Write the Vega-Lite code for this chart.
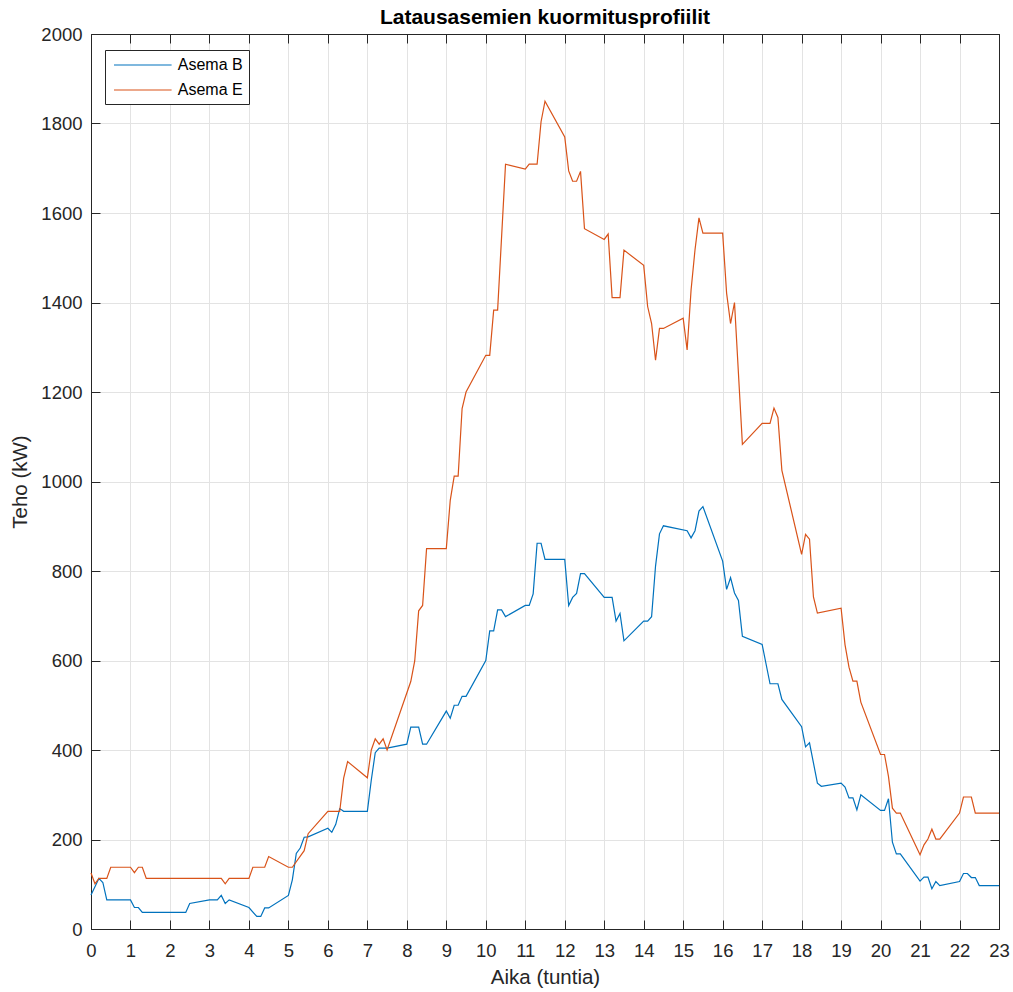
{
  "$schema": "https://vega.github.io/schema/vega-lite/v6.json",
  "autosize": {"type": "none"},
  "width": 908,
  "height": 895,
  "padding": {"left": 91, "top": 34, "right": 14, "bottom": 63},
  "background": "white",
  "title": {
    "text": "Latausasemien kuormitusprofiilit",
    "font": "Liberation Sans",
    "fontSize": 21,
    "fontWeight": "bold",
    "color": "#000000",
    "anchor": "middle",
    "baseline": "bottom",
    "offset": -24
  },
  "config": {
    "font": "Liberation Sans",
    "view": {"stroke": "#262626", "strokeWidth": 1},
    "axis": {
      "domainColor": "#262626",
      "tickColor": "#262626",
      "labelColor": "#262626",
      "titleColor": "#262626",
      "labelFont": "Liberation Sans",
      "titleFont": "Liberation Sans",
      "labelFontSize": 18.5,
      "titleFontSize": 20.5,
      "titleFontWeight": "normal",
      "gridColor": "#e3e3e3",
      "gridWidth": 1,
      "tickSize": -9,
      "tickWidth": 1
    }
  },
  "data": {
    "values": [
      {"h": 0, "v": 76, "s": "Asema B"}, {"h": 0.2, "v": 113, "s": "Asema B"}, {"h": 0.3, "v": 104, "s": "Asema B"},
      {"h": 0.4, "v": 65, "s": "Asema B"}, {"h": 1.0, "v": 65, "s": "Asema B"}, {"h": 1.1, "v": 48, "s": "Asema B"},
      {"h": 1.2, "v": 48, "s": "Asema B"}, {"h": 1.3, "v": 37, "s": "Asema B"}, {"h": 2.4, "v": 37, "s": "Asema B"},
      {"h": 2.5, "v": 57, "s": "Asema B"}, {"h": 3.0, "v": 65, "s": "Asema B"}, {"h": 3.2, "v": 65, "s": "Asema B"},
      {"h": 3.3, "v": 75, "s": "Asema B"}, {"h": 3.4, "v": 57, "s": "Asema B"}, {"h": 3.5, "v": 65, "s": "Asema B"},
      {"h": 4.0, "v": 48, "s": "Asema B"}, {"h": 4.2, "v": 28, "s": "Asema B"}, {"h": 4.3, "v": 28, "s": "Asema B"},
      {"h": 4.4, "v": 47, "s": "Asema B"}, {"h": 4.5, "v": 47, "s": "Asema B"}, {"h": 5.0, "v": 75, "s": "Asema B"},
      {"h": 5.1, "v": 110, "s": "Asema B"}, {"h": 5.2, "v": 169, "s": "Asema B"}, {"h": 5.3, "v": 181, "s": "Asema B"},
      {"h": 5.4, "v": 205, "s": "Asema B"}, {"h": 5.5, "v": 206, "s": "Asema B"}, {"h": 6.0, "v": 225, "s": "Asema B"},
      {"h": 6.1, "v": 216, "s": "Asema B"}, {"h": 6.2, "v": 234, "s": "Asema B"}, {"h": 6.3, "v": 269, "s": "Asema B"},
      {"h": 6.4, "v": 263, "s": "Asema B"}, {"h": 7.0, "v": 263, "s": "Asema B"}, {"h": 7.1, "v": 333, "s": "Asema B"},
      {"h": 7.2, "v": 394, "s": "Asema B"}, {"h": 7.3, "v": 404, "s": "Asema B"}, {"h": 7.5, "v": 404, "s": "Asema B"},
      {"h": 8.0, "v": 413, "s": "Asema B"}, {"h": 8.1, "v": 451, "s": "Asema B"}, {"h": 8.3, "v": 451, "s": "Asema B"},
      {"h": 8.4, "v": 413, "s": "Asema B"}, {"h": 8.5, "v": 413, "s": "Asema B"}, {"h": 9.0, "v": 487, "s": "Asema B"},
      {"h": 9.1, "v": 471, "s": "Asema B"}, {"h": 9.2, "v": 500, "s": "Asema B"}, {"h": 9.3, "v": 500, "s": "Asema B"},
      {"h": 9.4, "v": 520, "s": "Asema B"}, {"h": 9.5, "v": 520, "s": "Asema B"}, {"h": 10.0, "v": 600, "s": "Asema B"},
      {"h": 10.1, "v": 666, "s": "Asema B"}, {"h": 10.2, "v": 666, "s": "Asema B"}, {"h": 10.3, "v": 713, "s": "Asema B"},
      {"h": 10.4, "v": 713, "s": "Asema B"}, {"h": 10.5, "v": 698, "s": "Asema B"}, {"h": 11.0, "v": 723, "s": "Asema B"},
      {"h": 11.1, "v": 723, "s": "Asema B"}, {"h": 11.2, "v": 749, "s": "Asema B"}, {"h": 11.3, "v": 862, "s": "Asema B"},
      {"h": 11.4, "v": 862, "s": "Asema B"}, {"h": 11.5, "v": 826, "s": "Asema B"}, {"h": 12.0, "v": 826, "s": "Asema B"},
      {"h": 12.1, "v": 723, "s": "Asema B"}, {"h": 12.2, "v": 741, "s": "Asema B"}, {"h": 12.3, "v": 750, "s": "Asema B"},
      {"h": 12.4, "v": 794, "s": "Asema B"}, {"h": 12.5, "v": 794, "s": "Asema B"}, {"h": 13.0, "v": 741, "s": "Asema B"},
      {"h": 13.2, "v": 741, "s": "Asema B"}, {"h": 13.3, "v": 688, "s": "Asema B"}, {"h": 13.4, "v": 705, "s": "Asema B"},
      {"h": 13.5, "v": 644, "s": "Asema B"}, {"h": 14.0, "v": 688, "s": "Asema B"}, {"h": 14.1, "v": 688, "s": "Asema B"},
      {"h": 14.2, "v": 698, "s": "Asema B"}, {"h": 14.3, "v": 811, "s": "Asema B"}, {"h": 14.4, "v": 883, "s": "Asema B"},
      {"h": 14.5, "v": 901, "s": "Asema B"}, {"h": 15.1, "v": 890, "s": "Asema B"}, {"h": 15.2, "v": 874, "s": "Asema B"},
      {"h": 15.3, "v": 890, "s": "Asema B"}, {"h": 15.4, "v": 934, "s": "Asema B"}, {"h": 15.5, "v": 944, "s": "Asema B"},
      {"h": 16.0, "v": 822, "s": "Asema B"}, {"h": 16.1, "v": 759, "s": "Asema B"}, {"h": 16.2, "v": 785, "s": "Asema B"},
      {"h": 16.3, "v": 751, "s": "Asema B"}, {"h": 16.4, "v": 734, "s": "Asema B"}, {"h": 16.5, "v": 654, "s": "Asema B"},
      {"h": 17.0, "v": 636, "s": "Asema B"}, {"h": 17.2, "v": 548, "s": "Asema B"}, {"h": 17.4, "v": 548, "s": "Asema B"},
      {"h": 17.5, "v": 513, "s": "Asema B"}, {"h": 18.0, "v": 452, "s": "Asema B"}, {"h": 18.1, "v": 407, "s": "Asema B"},
      {"h": 18.2, "v": 416, "s": "Asema B"}, {"h": 18.4, "v": 326, "s": "Asema B"}, {"h": 18.5, "v": 319, "s": "Asema B"},
      {"h": 19.0, "v": 326, "s": "Asema B"}, {"h": 19.1, "v": 317, "s": "Asema B"}, {"h": 19.2, "v": 293, "s": "Asema B"},
      {"h": 19.3, "v": 293, "s": "Asema B"}, {"h": 19.4, "v": 266, "s": "Asema B"}, {"h": 19.5, "v": 300, "s": "Asema B"},
      {"h": 20.0, "v": 265, "s": "Asema B"}, {"h": 20.1, "v": 265, "s": "Asema B"}, {"h": 20.2, "v": 291, "s": "Asema B"},
      {"h": 20.3, "v": 194, "s": "Asema B"}, {"h": 20.4, "v": 168, "s": "Asema B"}, {"h": 20.5, "v": 168, "s": "Asema B"},
      {"h": 21.0, "v": 107, "s": "Asema B"}, {"h": 21.1, "v": 116, "s": "Asema B"}, {"h": 21.2, "v": 116, "s": "Asema B"},
      {"h": 21.3, "v": 90, "s": "Asema B"}, {"h": 21.4, "v": 106, "s": "Asema B"}, {"h": 21.5, "v": 97, "s": "Asema B"},
      {"h": 22.0, "v": 106, "s": "Asema B"}, {"h": 22.1, "v": 124, "s": "Asema B"}, {"h": 22.2, "v": 124, "s": "Asema B"},
      {"h": 22.3, "v": 115, "s": "Asema B"}, {"h": 22.4, "v": 115, "s": "Asema B"}, {"h": 22.5, "v": 97, "s": "Asema B"},
      {"h": 23.0, "v": 97, "s": "Asema B"},

      {"h": 0, "v": 125, "s": "Asema E"}, {"h": 0.1, "v": 101, "s": "Asema E"}, {"h": 0.2, "v": 113, "s": "Asema E"},
      {"h": 0.4, "v": 113, "s": "Asema E"}, {"h": 0.5, "v": 138, "s": "Asema E"}, {"h": 1.0, "v": 138, "s": "Asema E"},
      {"h": 1.1, "v": 126, "s": "Asema E"}, {"h": 1.2, "v": 138, "s": "Asema E"}, {"h": 1.3, "v": 138, "s": "Asema E"},
      {"h": 1.4, "v": 113, "s": "Asema E"}, {"h": 3.3, "v": 113, "s": "Asema E"}, {"h": 3.4, "v": 101, "s": "Asema E"},
      {"h": 3.5, "v": 113, "s": "Asema E"}, {"h": 4.0, "v": 113, "s": "Asema E"}, {"h": 4.1, "v": 138, "s": "Asema E"},
      {"h": 4.4, "v": 138, "s": "Asema E"}, {"h": 4.5, "v": 162, "s": "Asema E"}, {"h": 5.0, "v": 138, "s": "Asema E"},
      {"h": 5.1, "v": 138, "s": "Asema E"}, {"h": 5.4, "v": 175, "s": "Asema E"}, {"h": 5.5, "v": 213, "s": "Asema E"},
      {"h": 6.0, "v": 263, "s": "Asema E"}, {"h": 6.3, "v": 263, "s": "Asema E"}, {"h": 6.4, "v": 337, "s": "Asema E"},
      {"h": 6.5, "v": 374, "s": "Asema E"}, {"h": 7.0, "v": 338, "s": "Asema E"}, {"h": 7.1, "v": 400, "s": "Asema E"},
      {"h": 7.2, "v": 425, "s": "Asema E"}, {"h": 7.3, "v": 413, "s": "Asema E"}, {"h": 7.4, "v": 425, "s": "Asema E"},
      {"h": 7.5, "v": 400, "s": "Asema E"}, {"h": 8.1, "v": 553, "s": "Asema E"}, {"h": 8.2, "v": 599, "s": "Asema E"},
      {"h": 8.3, "v": 711, "s": "Asema E"}, {"h": 8.4, "v": 723, "s": "Asema E"}, {"h": 8.5, "v": 850, "s": "Asema E"},
      {"h": 9.0, "v": 850, "s": "Asema E"}, {"h": 9.1, "v": 958, "s": "Asema E"}, {"h": 9.2, "v": 1012, "s": "Asema E"},
      {"h": 9.3, "v": 1012, "s": "Asema E"}, {"h": 9.4, "v": 1163, "s": "Asema E"}, {"h": 9.5, "v": 1200, "s": "Asema E"},
      {"h": 10.0, "v": 1282, "s": "Asema E"}, {"h": 10.1, "v": 1282, "s": "Asema E"}, {"h": 10.2, "v": 1383, "s": "Asema E"},
      {"h": 10.3, "v": 1383, "s": "Asema E"}, {"h": 10.5, "v": 1709, "s": "Asema E"}, {"h": 11.0, "v": 1698, "s": "Asema E"},
      {"h": 11.1, "v": 1709, "s": "Asema E"}, {"h": 11.3, "v": 1709, "s": "Asema E"}, {"h": 11.4, "v": 1804, "s": "Asema E"},
      {"h": 11.5, "v": 1850, "s": "Asema E"}, {"h": 12.0, "v": 1770, "s": "Asema E"}, {"h": 12.1, "v": 1694, "s": "Asema E"},
      {"h": 12.2, "v": 1671, "s": "Asema E"}, {"h": 12.3, "v": 1671, "s": "Asema E"}, {"h": 12.4, "v": 1693, "s": "Asema E"},
      {"h": 12.5, "v": 1565, "s": "Asema E"}, {"h": 13.0, "v": 1541, "s": "Asema E"}, {"h": 13.1, "v": 1553, "s": "Asema E"},
      {"h": 13.2, "v": 1411, "s": "Asema E"}, {"h": 13.4, "v": 1411, "s": "Asema E"}, {"h": 13.5, "v": 1517, "s": "Asema E"},
      {"h": 14.0, "v": 1483, "s": "Asema E"}, {"h": 14.1, "v": 1391, "s": "Asema E"}, {"h": 14.2, "v": 1353, "s": "Asema E"},
      {"h": 14.3, "v": 1271, "s": "Asema E"}, {"h": 14.4, "v": 1342, "s": "Asema E"}, {"h": 14.5, "v": 1342, "s": "Asema E"},
      {"h": 15.0, "v": 1365, "s": "Asema E"}, {"h": 15.1, "v": 1294, "s": "Asema E"}, {"h": 15.2, "v": 1428, "s": "Asema E"},
      {"h": 15.3, "v": 1518, "s": "Asema E"}, {"h": 15.4, "v": 1589, "s": "Asema E"}, {"h": 15.5, "v": 1555, "s": "Asema E"},
      {"h": 16.0, "v": 1555, "s": "Asema E"}, {"h": 16.1, "v": 1421, "s": "Asema E"}, {"h": 16.2, "v": 1353, "s": "Asema E"},
      {"h": 16.3, "v": 1400, "s": "Asema E"}, {"h": 16.5, "v": 1083, "s": "Asema E"}, {"h": 17.0, "v": 1130, "s": "Asema E"},
      {"h": 17.2, "v": 1130, "s": "Asema E"}, {"h": 17.3, "v": 1164, "s": "Asema E"}, {"h": 17.4, "v": 1143, "s": "Asema E"},
      {"h": 17.5, "v": 1025, "s": "Asema E"}, {"h": 18.0, "v": 837, "s": "Asema E"}, {"h": 18.1, "v": 882, "s": "Asema E"},
      {"h": 18.2, "v": 871, "s": "Asema E"}, {"h": 18.3, "v": 742, "s": "Asema E"}, {"h": 18.4, "v": 706, "s": "Asema E"},
      {"h": 19.0, "v": 717, "s": "Asema E"}, {"h": 19.1, "v": 635, "s": "Asema E"}, {"h": 19.2, "v": 585, "s": "Asema E"},
      {"h": 19.3, "v": 554, "s": "Asema E"}, {"h": 19.4, "v": 554, "s": "Asema E"}, {"h": 19.5, "v": 507, "s": "Asema E"},
      {"h": 20.0, "v": 390, "s": "Asema E"}, {"h": 20.1, "v": 390, "s": "Asema E"}, {"h": 20.2, "v": 341, "s": "Asema E"},
      {"h": 20.3, "v": 270, "s": "Asema E"}, {"h": 20.4, "v": 259, "s": "Asema E"}, {"h": 20.5, "v": 259, "s": "Asema E"},
      {"h": 21.0, "v": 166, "s": "Asema E"}, {"h": 21.1, "v": 188, "s": "Asema E"}, {"h": 21.2, "v": 201, "s": "Asema E"},
      {"h": 21.3, "v": 223, "s": "Asema E"}, {"h": 21.4, "v": 201, "s": "Asema E"}, {"h": 21.5, "v": 201, "s": "Asema E"},
      {"h": 22.0, "v": 259, "s": "Asema E"}, {"h": 22.1, "v": 295, "s": "Asema E"}, {"h": 22.3, "v": 295, "s": "Asema E"},
      {"h": 22.4, "v": 259, "s": "Asema E"}, {"h": 23.0, "v": 259, "s": "Asema E"}
    ]
  },
  "resolve": {"axis": {"x": "independent", "y": "independent"}},
  "layer": [
    {
      "mark": {"type": "line", "strokeWidth": 1.2, "interpolate": "linear"},
      "encoding": {
        "x": {
          "field": "h", "type": "quantitative",
          "scale": {"domain": [0, 23], "nice": false, "zero": false},
          "axis": {
            "title": "Aika (tuntia)", "values": [0,1,2,3,4,5,6,7,8,9,10,11,12,13,14,15,16,17,18,19,20,21,22,23],
            "format": "d", "labelPadding": 21, "titlePadding": 8, "grid": true, "labelFlush": false
          }
        },
        "y": {
          "field": "v", "type": "quantitative",
          "scale": {"domain": [0, 2000], "nice": false},
          "axis": {
            "title": "Teho (kW)", "values": [0,200,400,600,800,1000,1200,1400,1600,1800,2000],
            "format": "d", "labelPadding": 18, "titlePadding": 10, "grid": true, "labelFlush": false
          }
        },
        "color": {
          "field": "s", "type": "nominal",
          "scale": {"domain": ["Asema B", "Asema E"], "range": ["#0072BD", "#D95319"]},
          "legend": {
            "title": null,
            "orient": "none",
            "legendX": 14,
            "legendY": 16,
            "symbolType": "M-3.6,0H3.6",
            "symbolSize": 256,
            "symbolStrokeWidth": 1.2,
            "symbolOffset": 22.8,
            "labelOffset": 26,
            "labelFont": "Liberation Sans",
            "labelFontSize": 16,
            "labelColor": "#000000",
            "strokeColor": "#262626",
            "fillColor": "white",
            "padding": 6,
            "rowPadding": 8
          }
        }
      }
    },
    {
      "mark": {"type": "point", "opacity": 0},
      "encoding": {
        "x": {
          "field": "h", "type": "quantitative",
          "axis": {"orient": "top", "title": null, "labels": false, "grid": false,
                   "values": [0,1,2,3,4,5,6,7,8,9,10,11,12,13,14,15,16,17,18,19,20,21,22,23]}
        },
        "y": {
          "field": "v", "type": "quantitative",
          "axis": {"orient": "right", "title": null, "labels": false, "grid": false,
                   "values": [0,200,400,600,800,1000,1200,1400,1600,1800,2000]}
        }
      }
    }
  ]
}
